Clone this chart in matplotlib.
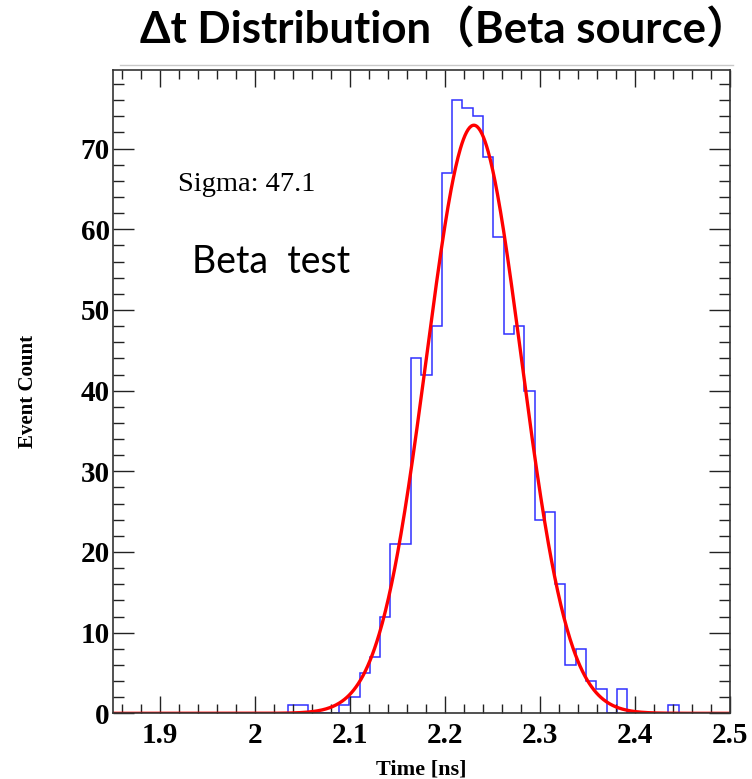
import numpy as np
import matplotlib.pyplot as plt
from matplotlib.ticker import MultipleLocator

# histogram: 60 bins between 1.85 and 2.5 ns
bin_lo = 1.85
bin_hi = 2.5
n_bins = 60
counts = [0, 0, 0, 0, 0, 0, 0, 0, 0, 0,
          0, 0, 0, 0, 0, 0, 0, 1, 1, 0,
          0, 0, 1, 2, 5, 7, 12, 21, 21, 44,
          42, 48, 67, 76, 75, 74, 69, 59, 47, 48,
          40, 24, 25, 16, 6, 8, 4, 3, 0, 3,
          0, 0, 0, 0, 1, 0, 0, 0, 0, 0]

# gaussian fit
fit_amp = 72.9
fit_mean = 2.2303
fit_sigma = 0.0498
sigma_ps = 47.1

x_ticks = [1.9, 2.0, 2.1, 2.2, 2.3, 2.4, 2.5]
x_tick_labels = ['1.9', '2', '2.1', '2.2', '2.3', '2.4', '2.5']
y_ticks = [0, 10, 20, 30, 40, 50, 60, 70]

edges = np.linspace(bin_lo, bin_hi, n_bins + 1)
xs = np.linspace(bin_lo, bin_hi, 800)
fit = fit_amp * np.exp(-0.5 * ((xs - fit_mean) / fit_sigma) ** 2)

fig = plt.figure(figsize=(7.52, 7.79), dpi=100)
ax = fig.add_axes([0.1499, 0.0843, 0.8208, 0.8264])

ax.stairs(counts, edges, color='#3030ff', lw=1.1, baseline=0)
ax.plot(xs, fit, color='#ff0000', lw=2.4)

ax.set_xlim(bin_lo, bin_hi)
ax.set_ylim(0, max(counts) * 1.05)

serif = 'Liberation Serif'
ax.set_xticks(x_ticks)
ax.set_xticklabels(x_tick_labels, fontfamily=serif, fontweight='bold', fontsize=21)
ax.set_yticks(y_ticks)
ax.set_yticklabels([str(v) for v in y_ticks], fontfamily=serif, fontweight='bold', fontsize=21)
ax.xaxis.set_minor_locator(MultipleLocator(0.02))
ax.yaxis.set_minor_locator(MultipleLocator(2))

ax.tick_params(which='both', direction='in', top=True, right=True, color='#222222', width=1.0)
ax.tick_params(axis='x', which='major', length=12, pad=6)
ax.tick_params(axis='x', which='minor', length=6.5)
ax.tick_params(axis='y', which='major', length=15, pad=2)
ax.tick_params(axis='y', which='minor', length=8)
for s in ax.spines.values():
    s.set_linewidth(1.2)
    s.set_color('#333333')

ax.set_xlabel('Time [ns]', fontfamily=serif, fontweight='bold', fontsize=16, labelpad=8)
ax.set_ylabel('Event Count', fontfamily=serif, fontweight='bold', fontsize=15, labelpad=31)

ax.text(1.9187, 65.5, f'Sigma: {sigma_ps}', fontfamily=serif, fontsize=20.5, va='center', ha='left')
ax.text(1.9335, 56.0, 'Beta  test', fontfamily=['Lato', 'DejaVu Sans'], fontsize=27, va='center', ha='left')

fig.text(0.591, 0.962, 'Δt Distribution（Beta source）', ha='center', va='center',
         fontfamily=['Lato', 'Noto Sans CJK SC'], fontweight='bold', fontsize=31.5)
fig.add_artist(plt.Line2D([0.16, 0.975], [0.9166, 0.9166], color='#c8c8c8', lw=1.0))

fig.savefig('out.png', dpi=100)
